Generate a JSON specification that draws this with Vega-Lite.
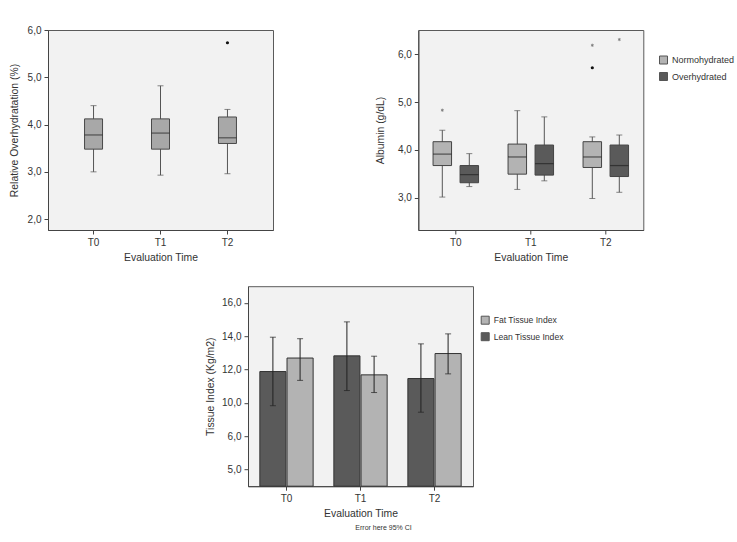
{
  "$schema": "https://vega.github.io/schema/vega-lite/v6.json",
  "background": "white",
  "padding": {"left": 8, "top": 24, "right": 2, "bottom": 4},
  "datasets": {
    "overhyd": [
      {"time": "T0", "lo": 3.0, "q1": 3.48, "med": 3.78, "q3": 4.12, "hi": 4.4},
      {"time": "T1", "lo": 2.93, "q1": 3.48, "med": 3.82, "q3": 4.12, "hi": 4.82},
      {"time": "T2", "lo": 2.96, "q1": 3.6, "med": 3.72, "q3": 4.16, "hi": 4.32}
    ],
    "overhydOut": [
      {"time": "T2", "v": 5.73}
    ],
    "albumin": [
      {"time": "T0", "group": "Normohydrated", "lo": 3.01, "q1": 3.67, "med": 3.91, "q3": 4.17, "hi": 4.41},
      {"time": "T0", "group": "Overhydrated", "lo": 3.23, "q1": 3.31, "med": 3.48, "q3": 3.67, "hi": 3.92},
      {"time": "T1", "group": "Normohydrated", "lo": 3.17, "q1": 3.49, "med": 3.85, "q3": 4.12, "hi": 4.82},
      {"time": "T1", "group": "Overhydrated", "lo": 3.35, "q1": 3.47, "med": 3.71, "q3": 4.1, "hi": 4.69},
      {"time": "T2", "group": "Normohydrated", "lo": 2.98, "q1": 3.63, "med": 3.85, "q3": 4.17, "hi": 4.27},
      {"time": "T2", "group": "Overhydrated", "lo": 3.11, "q1": 3.44, "med": 3.67, "q3": 4.1, "hi": 4.31}
    ],
    "albuminOut": [
      {"time": "T0", "group": "Normohydrated", "kind": "star", "v": 4.83},
      {"time": "T2", "group": "Normohydrated", "kind": "dot", "v": 5.72},
      {"time": "T2", "group": "Normohydrated", "kind": "star", "v": 6.19},
      {"time": "T2", "group": "Overhydrated", "kind": "star", "v": 6.31}
    ],
    "tissue": [
      {"time": "T0", "index": "Lean Tissue Index", "mean": 11.88, "lo": 9.83, "hi": 13.94},
      {"time": "T0", "index": "Fat Tissue Index", "mean": 12.69, "lo": 11.35, "hi": 13.85},
      {"time": "T1", "index": "Lean Tissue Index", "mean": 12.82, "lo": 10.74, "hi": 14.86},
      {"time": "T1", "index": "Fat Tissue Index", "mean": 11.68, "lo": 10.62, "hi": 12.8},
      {"time": "T2", "index": "Lean Tissue Index", "mean": 11.46, "lo": 9.44, "hi": 13.54},
      {"time": "T2", "index": "Fat Tissue Index", "mean": 12.96, "lo": 11.74, "hi": 14.14}
    ]
  },
  "config": {
    "font": "Liberation Sans",
    "view": {"stroke": "#5a5a5a", "strokeWidth": 1, "fill": "#f2f2f2"},
    "axis": {
      "domainColor": "#444", "tickColor": "#444", "tickSize": 4, "grid": false, "labelOverlap": false,
      "labelFontSize": 10, "labelColor": "#333", "labelPadding": 3,
      "titleFontSize": 10.4, "titleFontWeight": "normal", "titleColor": "#333"
    },
    "axisX": {"labelAngle": 0, "titlePadding": 5},
    "axisY": {"titlePadding": 8},
    "legend": {
      "title": null, "orient": "none", "padding": 0,
      "symbolType": "square", "symbolSize": 64, "symbolStrokeColor": "#555", "symbolStrokeWidth": 1,
      "labelFontSize": 9, "labelColor": "#333", "labelOffset": 4, "rowPadding": 3.5
    }
  },
  "spacing": 22.2,
  "resolve": {"scale": {"fill": "independent", "xOffset": "independent"}, "legend": {"fill": "independent"}},
  "vconcat": [
    {
      "bounds": "flush",
      "spacing": 145.3,
      "resolve": {"scale": {"fill": "independent", "xOffset": "independent"}, "legend": {"fill": "independent"}},
      "hconcat": [
        {
          "width": 225,
          "height": 200,
          "data": {"name": "overhyd"},
          "encoding": {
            "x": {"field": "time", "type": "nominal", "scale": {"paddingInner": 0, "paddingOuter": 0.18}, "axis": {"title": "Evaluation Time"}}
          },
          "layer": [
            {
              "mark": {"type": "rule", "color": "#555", "strokeWidth": 1},
              "encoding": {
                "y": {"field": "lo", "type": "quantitative", "scale": {"domain": [1.77, 6.0], "nice": false, "zero": false},
                      "axis": {"title": "Relative Overhydratation (%)", "values": [2, 3, 4, 5, 6], "tickCount": 10, "labelOverlap": false, "labelExpr": "replace(format(datum.value, '.1f'), '.', ',')"}},
                "y2": {"field": "hi"}
              }
            },
            {"mark": {"type": "tick", "size": 6, "thickness": 1, "color": "#555"}, "encoding": {"y": {"field": "lo", "type": "quantitative"}}},
            {"mark": {"type": "tick", "size": 6, "thickness": 1, "color": "#555"}, "encoding": {"y": {"field": "hi", "type": "quantitative"}}},
            {"mark": {"type": "bar", "size": 18, "fill": "#a8a8a8", "stroke": "#4a4a4a", "strokeWidth": 1},
             "encoding": {"y": {"field": "q1", "type": "quantitative"}, "y2": {"field": "q3"}}},
            {"mark": {"type": "tick", "size": 18, "thickness": 1.2, "color": "#2a2a2a"}, "encoding": {"y": {"field": "med", "type": "quantitative"}}},
            {"data": {"name": "overhydOut"}, "mark": {"type": "point", "filled": true, "color": "#111", "size": 10, "opacity": 1},
             "encoding": {"y": {"field": "v", "type": "quantitative"}}}
          ]
        },
        {
          "width": 225,
          "height": 200,
          "data": {"name": "albumin"},
          "encoding": {
            "x": {"field": "time", "type": "nominal", "scale": {"paddingInner": 0.28, "paddingOuter": 0.14}, "axis": {"title": "Evaluation Time"}},
            "xOffset": {"field": "group", "type": "nominal", "scale": {"domain": ["Normohydrated", "Overhydrated"], "paddingInner": 0, "paddingOuter": 0}}
          },
          "layer": [
            {
              "mark": {"type": "rule", "color": "#555", "strokeWidth": 1},
              "encoding": {
                "y": {"field": "lo", "type": "quantitative", "scale": {"domain": [2.32, 6.51], "nice": false, "zero": false},
                      "axis": {"title": "Albumin (g/dL)", "values": [3, 4, 5, 6], "tickCount": 10, "titlePadding": 12, "labelOverlap": false, "labelExpr": "replace(format(datum.value, '.1f'), '.', ',')"}},
                "y2": {"field": "hi"}
              }
            },
            {"mark": {"type": "tick", "size": 6, "thickness": 1, "color": "#555"}, "encoding": {"y": {"field": "lo", "type": "quantitative"}}},
            {"mark": {"type": "tick", "size": 6, "thickness": 1, "color": "#555"}, "encoding": {"y": {"field": "hi", "type": "quantitative"}}},
            {"mark": {"type": "bar", "size": 18.5, "stroke": "#444", "strokeWidth": 1},
             "encoding": {
               "y": {"field": "q1", "type": "quantitative"}, "y2": {"field": "q3"},
               "fill": {"field": "group", "type": "nominal",
                        "scale": {"domain": ["Normohydrated", "Overhydrated"], "range": ["#b3b3b3", "#5a5a5a"]},
                        "legend": {"legendX": 240.7, "legendY": 25.5}}
             }},
            {"mark": {"type": "tick", "size": 18.5, "thickness": 1.2, "color": "#222"}, "encoding": {"y": {"field": "med", "type": "quantitative"}}},
            {"data": {"name": "albuminOut"}, "transform": [{"filter": "datum.kind === 'dot'"}],
             "mark": {"type": "point", "filled": true, "color": "#111", "size": 10, "opacity": 1},
             "encoding": {"y": {"field": "v", "type": "quantitative"}}},
            {"data": {"name": "albuminOut"}, "transform": [{"filter": "datum.kind === 'star'"}],
             "mark": {"type": "point", "shape": "M0,-1L0,1M-0.87,-0.5L0.87,0.5M-0.87,0.5L0.87,-0.5", "filled": false, "color": "#777", "size": 10, "strokeWidth": 0.8, "opacity": 1},
             "encoding": {"y": {"field": "v", "type": "quantitative"}}}
          ]
        }
      ]
    },
    {
      "bounds": "flush",
      "spacing": 0,
      "resolve": {"scale": {"fill": "independent", "xOffset": "independent"}, "legend": {"fill": "independent"}},
      "hconcat": [
        {
          "width": 199.3,
          "height": 200,
          "view": {"stroke": null, "fill": null},
          "data": {"values": []},
          "mark": {"type": "point", "opacity": 0},
          "encoding": {}
        },
        {
          "width": 225,
          "height": 200,
          "title": {"text": "Error here 95% CI", "orient": "bottom", "anchor": "middle", "fontSize": 7, "fontWeight": "normal", "color": "#333", "dx": 23, "offset": 5},
          "data": {"name": "tissue"},
          "encoding": {
            "x": {"field": "time", "type": "nominal", "scale": {"paddingInner": 0.28, "paddingOuter": 0.16}, "axis": {"title": "Evaluation Time"}},
            "xOffset": {"field": "index", "type": "nominal", "sort": ["Lean Tissue Index", "Fat Tissue Index"], "scale": {"paddingInner": 0.04, "paddingOuter": 0}}
          },
          "layer": [
            {
              "mark": {"type": "bar", "stroke": "#333", "strokeWidth": 1},
              "encoding": {
                "y": {"field": "mean", "type": "quantitative", "scale": {"domain": [5, 17], "nice": false, "zero": false},
                      "axis": {"title": "Tissue Index (Kg/m2)", "values": [6, 8, 10, 12, 14, 16], "tickCount": 12, "titlePadding": 6, "labelOverlap": false,
                               "labelExpr": "datum.value == 8 ? '6,0' : datum.value == 6 ? '5,0' : replace(format(datum.value, '.1f'), '.', ',')"}},
                "y2": {"datum": 5},
                "fill": {"field": "index", "type": "nominal",
                         "scale": {"domain": ["Fat Tissue Index", "Lean Tissue Index"], "range": ["#b3b3b3", "#5a5a5a"]},
                         "legend": {"legendX": 232.7, "legendY": 29.5, "labelFontSize": 8.6}}
              }
            },
            {"mark": {"type": "rule", "color": "#222", "strokeWidth": 1},
             "encoding": {"y": {"field": "lo", "type": "quantitative"}, "y2": {"field": "hi"}}},
            {"mark": {"type": "tick", "size": 6, "thickness": 1, "color": "#222"}, "encoding": {"y": {"field": "lo", "type": "quantitative"}}},
            {"mark": {"type": "tick", "size": 6, "thickness": 1, "color": "#222"}, "encoding": {"y": {"field": "hi", "type": "quantitative"}}}
          ]
        }
      ]
    }
  ]
}
